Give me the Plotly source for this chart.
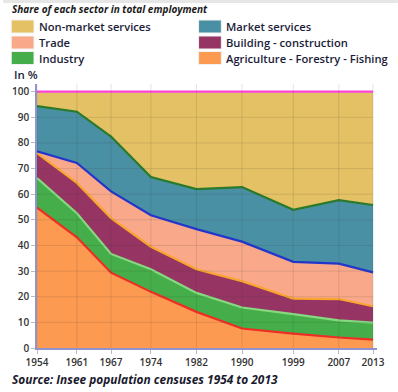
import plotly.graph_objects as go

years = [1954, 1961, 1967, 1974, 1982, 1990, 1999, 2007, 2013]

agriculture = [54.8, 43.2, 29.4, 21.9, 14.1, 7.6, 5.6, 4.1, 3.3]
industry = [11.5, 9.4, 7.3, 8.8, 7.4, 8.2, 7.6, 6.7, 6.6]
building = [9.7, 11.8, 14.0, 8.8, 9.2, 10.3, 6.1, 8.3, 6.4]
trade = [0.7, 7.8, 10.4, 12.3, 15.7, 15.4, 14.3, 13.8, 13.2]
market = [17.7, 20.0, 21.4, 14.9, 15.6, 21.3, 20.3, 24.8, 26.3]
nonmarket = [5.6, 7.8, 17.5, 33.3, 38.0, 37.2, 46.1, 42.3, 44.2]

y_ticks = [0, 10, 20, 30, 40, 50, 60, 70, 80, 90, 100]

series_names = ["Agriculture - Forestry - Fishing", "Industry", "Building - construction",
                "Trade", "Market services", "Non-market services"]
series_values = [agriculture, industry, building, trade, market, nonmarket]
fill_colors = ["#fd9a52", "#45ae4a", "#963563", "#f9a98a", "#4a90a4", "#e4c164"]
line_colors = ["#ee2e24", "#86d97f", "#f9a530", "#2236cc", "#2a7a2a", "#ff44dd"]

title_text = "Share of each sector in total employment"
source_text = "Source: Insee population censuses 1954 to 2013"
unit_text = "In %"

W, H = 398, 392
ml, mr, mt, mb = 34, 21, 84, 44
FONT = "Open Sans"


def fx(px):
    return (px - ml) / (W - ml - mr)


def fy(py):
    return (H - mb - py) / (H - mt - mb)


fig = go.Figure()
for name, vals, fc, lc in zip(series_names, series_values, fill_colors, line_colors):
    fig.add_trace(go.Scatter(
        x=years, y=vals, name=name, mode="lines", stackgroup="one",
        fillcolor=fc, line=dict(color=lc, width=2.2), showlegend=False,
        hoverinfo="x+y+name",
    ))

shapes = []
# gridlines drawn above the filled areas (as in reference)
for yr in years:
    shapes.append(dict(type="line", xref="x", yref="y", x0=yr, x1=yr, y0=0, y1=103,
                       line=dict(color="rgba(60,60,60,0.14)", width=1), layer="above"))
for t in y_ticks[1:-1]:
    shapes.append(dict(type="line", xref="x", yref="y", x0=years[0], x1=years[-1], y0=t, y1=t,
                       line=dict(color="rgba(60,60,60,0.14)", width=1), layer="above"))

# top grey band
shapes.append(dict(type="rect", xref="paper", yref="paper", x0=fx(0), x1=fx(W), y0=fy(0), y1=fy(3),
                   fillcolor="#e6e6e6", line=dict(width=0), layer="above"))

annotations = []
# custom legend, two columns, order as in reference
legend_order = [5, 4, 3, 2, 1, 0]
col_x = [8, 197]
row_y = [26.5, 42.5, 58]
for i, idx in enumerate(legend_order):
    cx = col_x[i % 2]
    ry = row_y[i // 2]
    shapes.append(dict(type="rect", xref="paper", yref="paper",
                       x0=fx(cx), x1=fx(cx + 23), y0=fy(ry - 6.5), y1=fy(ry + 6.5),
                       fillcolor=fill_colors[idx], line=dict(color="#f2f2f2", width=1)))
    annotations.append(dict(text=series_names[idx], xref="paper", yref="paper",
                            x=fx(cx + 26), y=fy(ry), xanchor="left", yanchor="middle",
                            showarrow=False,
                            font=dict(family=FONT, size=11.2, color="#1c1c38", weight=600)))

annotations.append(dict(text="<b><i>" + title_text + "</i></b>", xref="paper", yref="paper",
                        x=fx(7), y=fy(9), xanchor="left", yanchor="middle", showarrow=False,
                        font=dict(family=FONT, size=10, color="#1a1a1a")))
annotations.append(dict(text=unit_text, xref="paper", yref="paper",
                        x=fx(9), y=fy(74), xanchor="left", yanchor="middle", showarrow=False,
                        font=dict(family=FONT, size=11.5, color="#1c1c38", weight=600)))
annotations.append(dict(text="<b><i>" + source_text + "</i></b>", xref="paper", yref="paper",
                        x=fx(7), y=fy(379), xanchor="left", yanchor="middle", showarrow=False,
                        font=dict(family=FONT, size=11.9, color="#1a1a2e")))

fig.update_layout(
    width=W, height=H,
    margin=dict(l=ml, r=mr, t=mt, b=mb, pad=0),
    paper_bgcolor="white", plot_bgcolor="white",
    showlegend=False,
    shapes=shapes, annotations=annotations,
    font=dict(family=FONT, size=10, color="#333"),
)
fig.update_xaxes(
    range=[years[0], 2013.7], tickmode="array", tickvals=years, ticktext=[str(y) for y in years],
    showgrid=False, zeroline=False, showline=True, linecolor="#8f94cf", linewidth=1.5,
    ticks="outside", ticklen=4, tickcolor="#bbbbbb",
    tickfont=dict(family=FONT, size=10, color="#333", weight=600),
)
fig.update_yaxes(
    range=[0, 103], tickmode="array", tickvals=y_ticks,
    showgrid=False, zeroline=False, showline=True, linecolor="#8f94cf", linewidth=1.5,
    ticks="outside", ticklen=4, tickcolor="#bbbbbb",
    tickfont=dict(family=FONT, size=10, color="#333", weight=600),
)

fig.write_html("out.html", config={"displayModeBar": False},
               post_script="document.body.style.margin='0';")
